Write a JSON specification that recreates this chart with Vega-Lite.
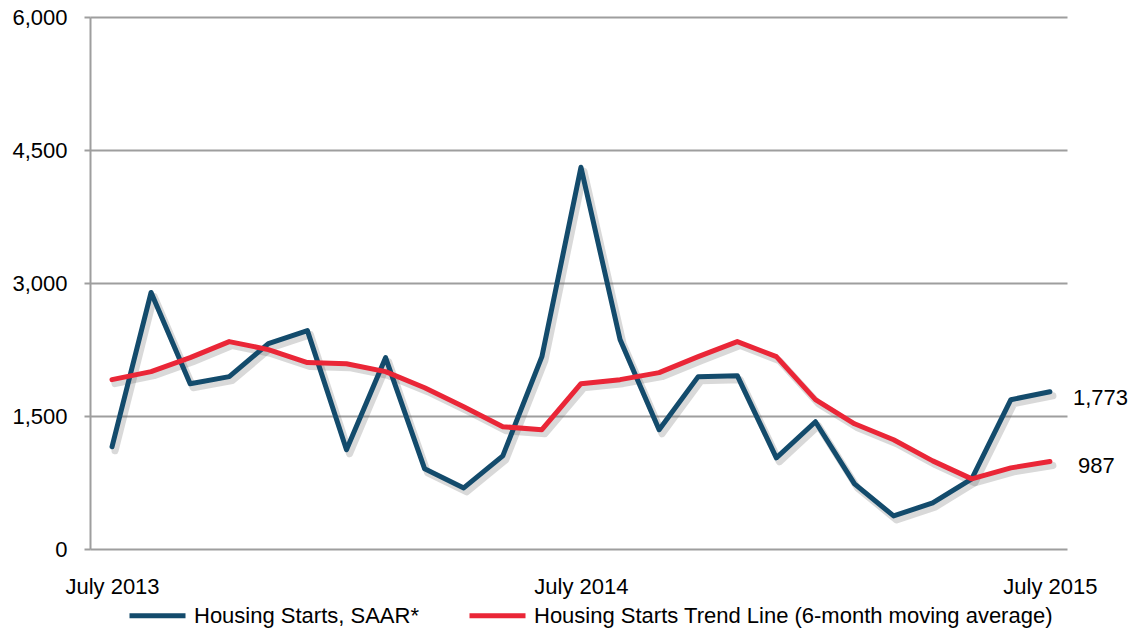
{
  "$schema": "https://vega.github.io/schema/vega-lite/v6.json",
  "width": 977,
  "height": 532,
  "autosize": "none",
  "padding": {"left": 90, "top": 17, "right": 72, "bottom": 86},
  "background": "white",
  "config": {
    "font": "Liberation Sans",
    "view": {"stroke": null},
    "axis": {"labelFont": "Liberation Sans", "labelFontSize": 22, "labelColor": "#000000"},
    "legend": {"labelFont": "Liberation Sans", "labelFontSize": 22, "labelColor": "#000000"}
  },
  "data": {
    "values": [
      {"month": "2013-07", "series": "Housing Starts, SAAR*", "value": 1153},
      {"month": "2013-08", "series": "Housing Starts, SAAR*", "value": 2893},
      {"month": "2013-09", "series": "Housing Starts, SAAR*", "value": 1864},
      {"month": "2013-10", "series": "Housing Starts, SAAR*", "value": 1944},
      {"month": "2013-11", "series": "Housing Starts, SAAR*", "value": 2316},
      {"month": "2013-12", "series": "Housing Starts, SAAR*", "value": 2463},
      {"month": "2014-01", "series": "Housing Starts, SAAR*", "value": 1119},
      {"month": "2014-02", "series": "Housing Starts, SAAR*", "value": 2158},
      {"month": "2014-03", "series": "Housing Starts, SAAR*", "value": 904},
      {"month": "2014-04", "series": "Housing Starts, SAAR*", "value": 689},
      {"month": "2014-05", "series": "Housing Starts, SAAR*", "value": 1051},
      {"month": "2014-06", "series": "Housing Starts, SAAR*", "value": 2169},
      {"month": "2014-07", "series": "Housing Starts, SAAR*", "value": 4305},
      {"month": "2014-08", "series": "Housing Starts, SAAR*", "value": 2362},
      {"month": "2014-09", "series": "Housing Starts, SAAR*", "value": 1345},
      {"month": "2014-10", "series": "Housing Starts, SAAR*", "value": 1944},
      {"month": "2014-11", "series": "Housing Starts, SAAR*", "value": 1955},
      {"month": "2014-12", "series": "Housing Starts, SAAR*", "value": 1028},
      {"month": "2015-01", "series": "Housing Starts, SAAR*", "value": 1435},
      {"month": "2015-02", "series": "Housing Starts, SAAR*", "value": 734},
      {"month": "2015-03", "series": "Housing Starts, SAAR*", "value": 373},
      {"month": "2015-04", "series": "Housing Starts, SAAR*", "value": 520},
      {"month": "2015-05", "series": "Housing Starts, SAAR*", "value": 791},
      {"month": "2015-06", "series": "Housing Starts, SAAR*", "value": 1684},
      {"month": "2015-07", "series": "Housing Starts, SAAR*", "value": 1773},
      {"month": "2013-07", "series": "Housing Starts Trend Line (6-month moving average)", "value": 1910},
      {"month": "2013-08", "series": "Housing Starts Trend Line (6-month moving average)", "value": 2000},
      {"month": "2013-09", "series": "Housing Starts Trend Line (6-month moving average)", "value": 2158},
      {"month": "2013-10", "series": "Housing Starts Trend Line (6-month moving average)", "value": 2339},
      {"month": "2013-11", "series": "Housing Starts Trend Line (6-month moving average)", "value": 2249},
      {"month": "2013-12", "series": "Housing Starts Trend Line (6-month moving average)", "value": 2102},
      {"month": "2014-01", "series": "Housing Starts Trend Line (6-month moving average)", "value": 2090},
      {"month": "2014-02", "series": "Housing Starts Trend Line (6-month moving average)", "value": 2000},
      {"month": "2014-03", "series": "Housing Starts Trend Line (6-month moving average)", "value": 1819},
      {"month": "2014-04", "series": "Housing Starts Trend Line (6-month moving average)", "value": 1605},
      {"month": "2014-05", "series": "Housing Starts Trend Line (6-month moving average)", "value": 1379},
      {"month": "2014-06", "series": "Housing Starts Trend Line (6-month moving average)", "value": 1345},
      {"month": "2014-07", "series": "Housing Starts Trend Line (6-month moving average)", "value": 1864},
      {"month": "2014-08", "series": "Housing Starts Trend Line (6-month moving average)", "value": 1910},
      {"month": "2014-09", "series": "Housing Starts Trend Line (6-month moving average)", "value": 1989},
      {"month": "2014-10", "series": "Housing Starts Trend Line (6-month moving average)", "value": 2169},
      {"month": "2014-11", "series": "Housing Starts Trend Line (6-month moving average)", "value": 2339},
      {"month": "2014-12", "series": "Housing Starts Trend Line (6-month moving average)", "value": 2169},
      {"month": "2015-01", "series": "Housing Starts Trend Line (6-month moving average)", "value": 1684},
      {"month": "2015-02", "series": "Housing Starts Trend Line (6-month moving average)", "value": 1412},
      {"month": "2015-03", "series": "Housing Starts Trend Line (6-month moving average)", "value": 1232},
      {"month": "2015-04", "series": "Housing Starts Trend Line (6-month moving average)", "value": 994},
      {"month": "2015-05", "series": "Housing Starts Trend Line (6-month moving average)", "value": 791},
      {"month": "2015-06", "series": "Housing Starts Trend Line (6-month moving average)", "value": 915},
      {"month": "2015-07", "series": "Housing Starts Trend Line (6-month moving average)", "value": 987}
    ]
  },
  "encoding": {
    "x": {
      "field": "month",
      "type": "ordinal",
      "sort": null,
      "scale": {"type": "point", "padding": 0.5, "align": 0.563},
      "axis": {
        "title": null,
        "domain": false,
        "ticks": false,
        "grid": false,
        "labelAngle": 0,
        "labelPadding": 27,
        "labelExpr": "slice(datum.value, 5) == '07' ? 'July ' + slice(datum.value, 0, 4) : ''"
      }
    },
    "y": {
      "field": "value",
      "type": "quantitative",
      "scale": {"domain": [0, 6000], "nice": false},
      "axis": {
        "title": null,
        "values": [0, 1500, 3000, 4500, 6000],
        "format": ",.0f",
        "grid": true,
        "gridColor": "#9e9e9e",
        "gridWidth": 2,
        "domain": true,
        "domainColor": "#9e9e9e",
        "domainWidth": 2,
        "ticks": true,
        "tickColor": "#9e9e9e",
        "tickWidth": 2,
        "tickSize": 6,
        "labelPadding": 17
      }
    }
  },
  "layer": [
    {
      "mark": {"type": "line", "stroke": "#666666", "strokeWidth": 7, "opacity": 0.25, "xOffset": 3, "yOffset": 4, "strokeJoin": "round", "strokeCap": "round"},
      "encoding": {"detail": {"field": "series"}}
    },
    {
      "mark": {"type": "line", "strokeWidth": 5, "strokeJoin": "round", "strokeCap": "round"},
      "encoding": {
        "color": {
          "field": "series",
          "type": "nominal",
          "sort": null,
          "scale": {
            "domain": ["Housing Starts, SAAR*", "Housing Starts Trend Line (6-month moving average)"],
            "range": ["#134B6C", "#EA2637"]
          },
          "legend": {
            "title": null,
            "orient": "none",
            "direction": "horizontal",
            "legendX": 37,
            "legendY": 568,
            "symbolType": "stroke",
            "symbolSize": 3136,
            "symbolStrokeWidth": 5,
            "labelOffset": 6,
            "columnPadding": 40,
            "labelLimit": 800
          }
        }
      }
    },
    {
      "transform": [{"filter": "datum.month == '2015-07' && datum.series == 'Housing Starts, SAAR*'"}],
      "mark": {"type": "text", "align": "left", "baseline": "middle", "dx": 23, "dy": 6, "fontSize": 22, "font": "Liberation Sans", "color": "#000000"},
      "encoding": {"text": {"field": "value", "type": "quantitative", "format": ",.0f"}}
    },
    {
      "transform": [{"filter": "datum.month == '2015-07' && datum.series != 'Housing Starts, SAAR*'"}],
      "mark": {"type": "text", "align": "left", "baseline": "middle", "dx": 28, "dy": 5, "fontSize": 22, "font": "Liberation Sans", "color": "#000000"},
      "encoding": {"text": {"field": "value", "type": "quantitative", "format": ",.0f"}}
    }
  ]
}
